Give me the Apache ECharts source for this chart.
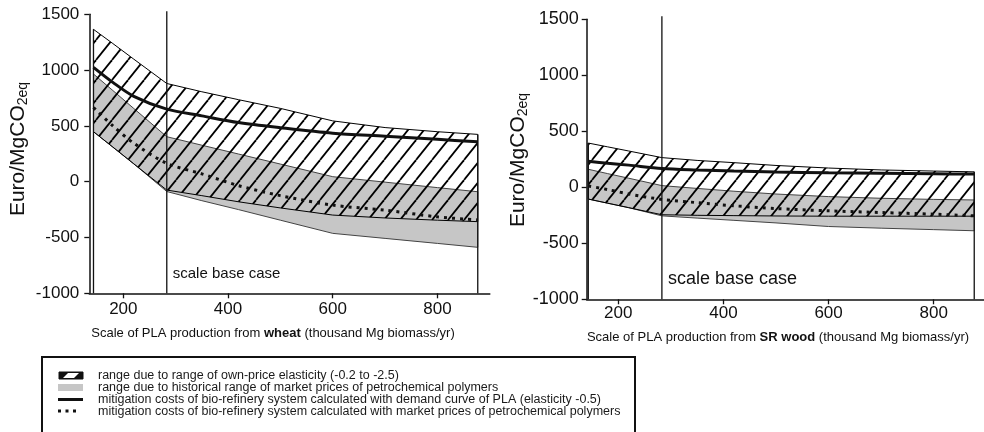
<!DOCTYPE html>
<html>
<head>
<meta charset="utf-8">
<script src="https://cdn.jsdelivr.net/npm/echarts@6/dist/echarts.min.js"></script>
<style>
  html, body { margin: 0; padding: 0; background: #fff; }
  #chart { width: 984px; height: 432px; }
</style>
</head>
<body>
<div id="chart"></div>
<script>
// scale of PLA production (thousand Mg biomass/yr)
var xs = [143, 180, 220, 283, 350, 420, 500, 600, 700, 800, 877];
var baseCase = 283;
var xTicks = [200, 400, 600, 800];

// wheat panel (Euro/MgCO2eq)
var wheatHatchHigh = [1365, 1238, 1098, 880, 806, 735, 657, 545, 485, 448, 424];
var wheatHatchLow  = [448, 310, 160, -75, -125, -180, -235, -299, -325, -345, -358];
var wheatGrayHigh  = [965, 817, 656, 403, 327, 248, 158, 45, -4, -53, -90];
var wheatGrayLow   = [448, 310, 160, -88, -170, -250, -345, -463, -508, -553, -588];
var wheatDemand    = [1025, 890, 765, 650, 590, 530, 484, 435, 408, 380, 357];
var wheatMarket    = [665, 500, 345, 165, 70, -35, -125, -210, -255, -315, -343];

// SR wood panel
var woodHatchHigh = [395, 361, 324, 265, 240, 220, 195, 172, 155, 145, 138];
var woodHatchLow  = [-105, -142, -182, -245, -250, -253, -256, -258, -258, -258, -258];
var woodGrayHigh  = [161, 122, 81, 15, -10, -35, -60, -83, -98, -108, -113];
var woodGrayLow   = [-105, -142, -182, -255, -275, -295, -318, -350, -365, -378, -388];
var woodDemand    = [232, 215, 198, 168, 155, 145, 136, 130, 125, 121, 118];
var woodMarket    = [12, -20, -60, -108, -137, -165, -190, -210, -225, -240, -255];

var legendTexts = [
  'range due to range of own-price elasticity (-0.2 to -2.5)',
  'range due to historical range of market prices of petrochemical polymers',
  'mitigation costs of bio-refinery system calculated with demand curve of PLA (elasticity -0.5)',
  'mitigation costs of bio-refinery system calculated with market prices of petrochemical polymers'
];

var FONT = '"Liberation Sans", Arial, Helvetica, sans-serif';
var INK = '#111';

function makeHatch() {
  var c = document.createElement('canvas');
  c.width = 16; c.height = 20;
  var g = c.getContext('2d');
  g.strokeStyle = '#000';
  g.lineWidth = 1.8;
  [-16, 0, 16].forEach(function (dx) {
    g.beginPath();
    g.moveTo(dx, 20);
    g.lineTo(dx + 16, 0);
    g.stroke();
  });
  return c;
}
var hatch = { image: makeHatch(), repeat: 'repeat' };

function band(idx, upper, lower, fill, stroke, z) {
  return {
    type: 'custom', xAxisIndex: idx, yAxisIndex: idx, z: z, silent: true,
    data: [[xs[0], upper[0]]],
    renderItem: function (params, api) {
      var pts = [];
      for (var i = 0; i < xs.length; i++) pts.push(api.coord([xs[i], upper[i]]));
      for (var j = xs.length - 1; j >= 0; j--) pts.push(api.coord([xs[j], lower[j]]));
      return { type: 'polygon', shape: { points: pts }, style: { fill: fill, stroke: stroke, lineWidth: 1 } };
    }
  };
}

function frame(idx, upper, fontSize, dy) {
  return {
    type: 'custom', xAxisIndex: idx, yAxisIndex: idx, z: 5, silent: true,
    data: [[baseCase, -1000]],
    renderItem: function (params, api) {
      var last = xs.length - 1;
      var a = api.coord([xs[0], -1000]), b = api.coord([xs[0], upper[0]]);
      var c = api.coord([xs[last], -1000]), d = api.coord([xs[last], upper[last]]);
      var e = api.coord([baseCase, -1000]), f = api.coord([baseCase, 1500]);
      var ls = { stroke: INK, lineWidth: 1.3 };
      return { type: 'group', children: [
        { type: 'line', shape: { x1: a[0], y1: a[1], x2: b[0], y2: b[1] }, style: ls },
        { type: 'line', shape: { x1: c[0], y1: c[1], x2: d[0], y2: d[1] }, style: ls },
        { type: 'line', shape: { x1: e[0], y1: e[1], x2: f[0], y2: f[1] - 3 }, style: ls },
        { type: 'text', x: e[0] + 6, y: e[1] - dy, style: {
            text: 'scale base case', fontSize: fontSize, fontFamily: FONT, fill: INK, verticalAlign: 'middle' } }
      ] };
    }
  };
}

function lineSeries(idx, vals, dotted) {
  return {
    type: 'line', xAxisIndex: idx, yAxisIndex: idx, z: 4, silent: true,
    smooth: 0.3, symbol: 'none',
    data: xs.map(function (x, i) { return [x, vals[i]]; }),
    lineStyle: dotted ? { color: INK, width: 3, type: [3, 5], cap: 'butt' } : { color: INK, width: 3 }
  };
}

function xAxis(idx, min, max, margin) {
  return {
    type: 'value', gridIndex: idx, min: min, max: max,
    axisLine: { onZero: false, lineStyle: { color: INK, width: 1.5 } },
    axisTick: { length: 5, customValues: xTicks, lineStyle: { color: INK, width: 1.3 } },
    axisLabel: { customValues: xTicks, fontSize: 17, fontFamily: FONT, color: INK, margin: margin,
      formatter: function (v) { return String(v); } },
    splitLine: { show: false }
  };
}

function yAxis(idx, fontSize, margin) {
  return {
    type: 'value', gridIndex: idx, min: -1000, max: 1500, interval: 500,
    axisLine: { show: true, onZero: false, lineStyle: { color: INK, width: 1.5 } },
    axisTick: { show: true, length: 5, lineStyle: { color: INK, width: 1.3 } },
    axisLabel: { fontSize: fontSize, fontFamily: FONT, color: INK, margin: margin,
      formatter: function (v) { return String(v); } },
    splitLine: { show: false }
  };
}

function yName(x, y) {
  return {
    type: 'text', x: x, y: y, rotation: Math.PI / 2,
    style: {
      text: '{a|Euro/MgCO}{s|2eq}', fill: INK, align: 'center', verticalAlign: 'middle',
      rich: {
        a: { fontSize: 21, fontFamily: FONT, fill: INK },
        s: { fontSize: 14, fontFamily: FONT, fill: INK, padding: [11, 0, 0, 0] }
      }
    }
  };
}

function xName(x, y, crop) {
  return {
    type: 'text', x: x, y: y,
    style: {
      text: 'Scale of PLA production from {b|' + crop + '} (thousand Mg biomass/yr)',
      fontSize: 13, fontFamily: FONT, fill: INK, align: 'center', verticalAlign: 'middle',
      rich: { b: { fontSize: 13, fontFamily: FONT, fontWeight: 'bold', fill: INK } }
    }
  };
}

var legendGraphics = [
  { type: 'rect', shape: { x: 42, y: 357, width: 593, height: 90 }, style: { fill: 'none', stroke: INK, lineWidth: 2 } },
  { type: 'rect', shape: { x: 59, y: 372, width: 24, height: 7 }, style: { fill: INK, stroke: INK, lineWidth: 1 } },
  { type: 'polygon', shape: { points: [[63, 378], [68, 373], [79, 373], [74, 378]] }, style: { fill: '#fff' } },
  { type: 'rect', shape: { x: 58, y: 384, width: 25, height: 7 }, style: { fill: '#c6c6c6' } },
  { type: 'line', shape: { x1: 58, y1: 399.5, x2: 83, y2: 399.5 }, style: { stroke: INK, lineWidth: 3 } },
  { type: 'line', shape: { x1: 58, y1: 411, x2: 78, y2: 411 }, style: { stroke: INK, lineWidth: 3, lineDash: [3, 4.5] } }
];
legendTexts.forEach(function (t, i) {
  legendGraphics.push({ type: 'text', x: 98, y: 376 + i * 11.7, style: {
    text: t, fontSize: 12.5, fontFamily: FONT, fill: '#1a1a1a', verticalAlign: 'middle' } });
});

var chart = echarts.init(document.getElementById('chart'), null, { renderer: 'canvas' });
chart.setOption({
  animation: false,
  backgroundColor: '#fff',
  grid: [
    { left: 89.3, top: 14.3, width: 400.5, height: 279 },
    { left: 586.7, top: 19.3, width: 397, height: 280 }
  ],
  xAxis: [xAxis(0, 135, 900, 8), xAxis(1, 140, 895, 6)],
  yAxis: [yAxis(0, 17, 10), yAxis(1, 18, 8)],
  series: [
    band(0, wheatGrayHigh, wheatGrayLow, '#c6c6c6', '#444', 1),
    band(0, wheatHatchHigh, wheatHatchLow, hatch, '#000', 2),
    lineSeries(0, wheatDemand, false),
    lineSeries(0, wheatMarket, true),
    frame(0, wheatHatchHigh, 15, 19),
    band(1, woodGrayHigh, woodGrayLow, '#c6c6c6', '#444', 1),
    band(1, woodHatchHigh, woodHatchLow, hatch, '#000', 2),
    lineSeries(1, woodDemand, false),
    lineSeries(1, woodMarket, true),
    frame(1, woodHatchHigh, 18, 20)
  ],
  graphic: [
    yName(18, 149), yName(518, 160),
    xName(273, 333, 'wheat'), xName(778, 337, 'SR wood')
  ].concat(legendGraphics)
});
</script>
</body>
</html>
